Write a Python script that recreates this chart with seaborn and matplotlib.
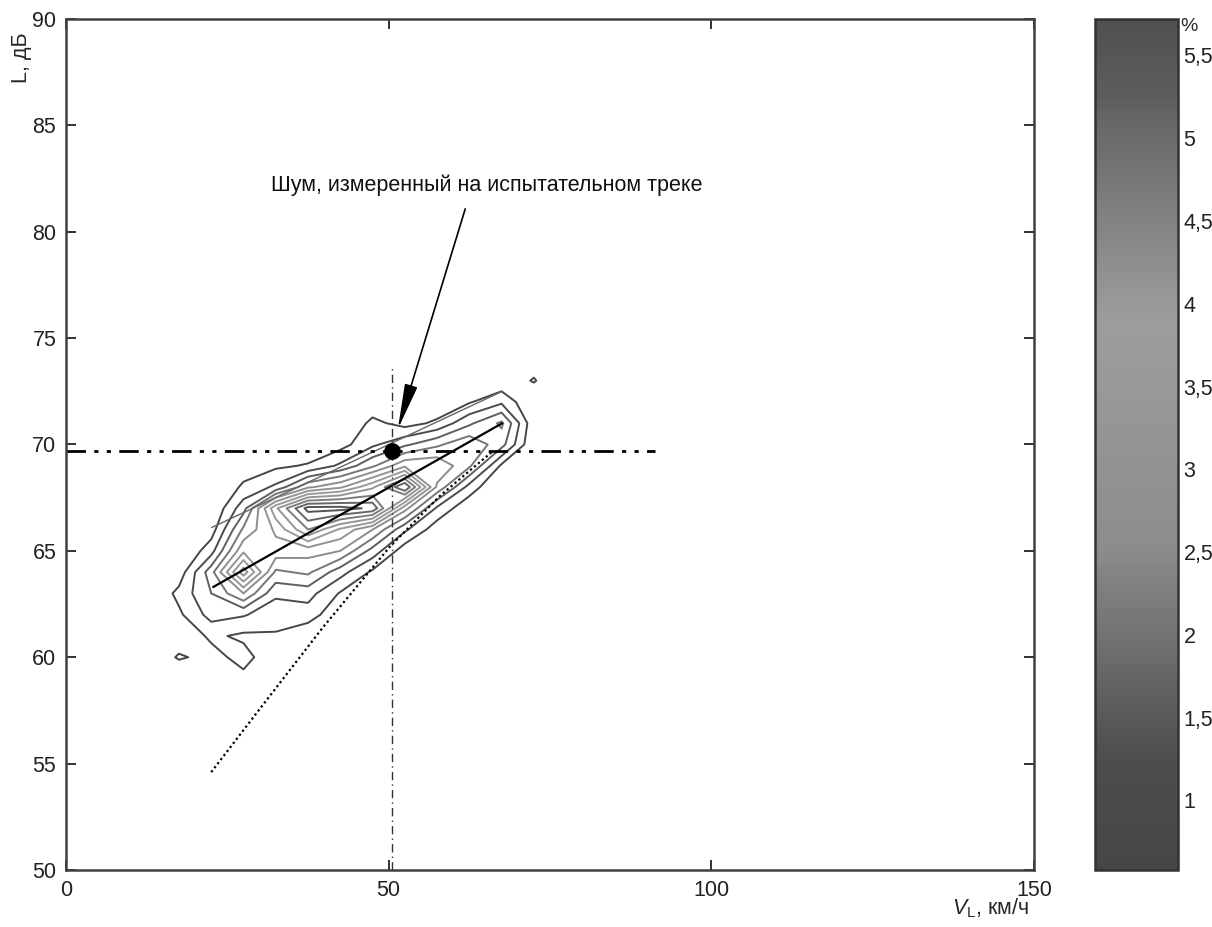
import numpy as np
import matplotlib
matplotlib.use("Agg")
import matplotlib.pyplot as plt
import seaborn as sns
from matplotlib.colors import ListedColormap, Normalize
from matplotlib.cm import ScalarMappable

# speed bins (km/h) and level bins (dB) of the density table
speed_bins = [17.5, 22.5, 27.5, 32.5, 37.5, 42.5, 47.5, 52.5, 57.5, 62.5, 67.5, 72.5]
level_bins = list(range(57, 76))

# share of pass-bys (%) per level bin, one list per speed bin (57 ... 75 dB)
v17 = [0, 0, 0, 0.68, 0.2, 0.5, 0.75, 0.3, 0, 0, 0, 0, 0, 0, 0, 0, 0, 0, 0]
v22 = [0, 0, 0.1, 0.4, 0.7, 1.3, 1.6, 1.9, 0.9, 0.35, 0.1, 0, 0, 0, 0, 0, 0, 0, 0]
v27 = [0, 0.1, 0.45, 0.8, 0.5, 1.15, 2.6, 4.4, 3.0, 2.2, 1.4, 0.7, 0.3, 0, 0, 0, 0, 0, 0]
v32 = [0, 0, 0.05, 0.2, 0.55, 0.8, 1.2, 2.0, 2.9, 3.2, 4.0, 1.2, 0.5, 0.1, 0, 0, 0, 0, 0]
v37 = [0, 0, 0, 0.05, 0.2, 0.85, 1.3, 2.2, 2.8, 4.6, 5.8, 2.5, 0.65, 0.2, 0, 0, 0, 0, 0]
v42 = [0, 0, 0, 0, 0, 0.2, 0.55, 1.3, 2.6, 3.5, 5.8, 3.0, 1.2, 0.4, 0, 0, 0, 0, 0]
v47 = [0, 0, 0, 0, 0, 0, 0.1, 0.5, 1.4, 2.6, 5.5, 4.0, 2.0, 1.0, 0.75, 0.2, 0, 0, 0]
v52 = [0, 0, 0, 0, 0, 0, 0, 0.05, 0.3, 1.2, 2.8, 5.6, 3.0, 1.5, 0.4, 0, 0, 0, 0]
v57 = [0, 0, 0, 0, 0, 0, 0, 0, 0, 0.3, 1.0, 2.5, 3.0, 2.0, 0.7, 0.2, 0, 0, 0]
v62 = [0, 0, 0, 0, 0, 0, 0, 0, 0, 0, 0.2, 0.9, 2.2, 2.5, 1.5, 0.55, 0, 0, 0]
v67 = [0, 0, 0, 0, 0, 0, 0, 0, 0, 0, 0, 0, 0.5, 1.8, 2.2, 1.0, 0.2, 0, 0]
v72 = [0, 0, 0, 0, 0, 0, 0, 0, 0, 0, 0, 0, 0, 0.1, 0.2, 0.1, 0.65, 0.3, 0]

# regression line, upper line and track curve
regr_v = [22.8, 67.6]
regr_L = [63.3, 71.0]
upper_v = [22.6, 67.6]
upper_L = [66.1, 72.5]
track_v = [22.5, 30.1, 39.8, 50.2, 58.0, 66.2]
track_L = [54.6, 57.6, 61.4, 65.2, 67.6, 69.7]

# test track measurement
meas_v = 50.5
meas_L = 69.7
vline_top = 73.7
hline_end = 91.3
note = "Шум, измеренный на испытательном треке"

contour_levels = [0.6, 1.1, 1.6, 2.1, 2.6, 3.1, 3.6, 4.1, 4.6, 5.1, 5.6]
cbar_min, cbar_max = 0.58, 5.72
cbar_ticks = [1, 1.5, 2, 2.5, 3, 3.5, 4, 4.5, 5, 5.5]

sns.set_style("white")
plt.rcParams["font.family"] = ["Liberation Sans", "DejaVu Sans"]
plt.rcParams["mathtext.fontset"] = "custom"
plt.rcParams["mathtext.rm"] = "Liberation Sans"
plt.rcParams["mathtext.it"] = "Liberation Sans:italic"

# grey rendering of jet, like the printed original
jet = plt.get_cmap("jet")(np.linspace(0, 1, 256))
lum = 0.299 * jet[:, 0] + 0.587 * jet[:, 1] + 0.114 * jet[:, 2]
g = 0.25 + 0.42 * lum
grey_jet = ListedColormap(np.column_stack([g, g, g]))
norm = Normalize(cbar_min, cbar_max)

Z = np.pad(np.column_stack([v17, v22, v27, v32, v37, v42, v47, v52, v57, v62, v67, v72]),
           ((0, 0), (1, 1)))
xs = [12.5] + speed_bins + [77.5]

fig = plt.figure(figsize=(12.12, 9.27), dpi=100)
ax = fig.add_axes([0.0545, 0.0615, 0.7985, 0.918])
cax = fig.add_axes([0.9035, 0.0615, 0.0685, 0.918])

ax.contour(xs, level_bins, Z, levels=contour_levels, cmap=grey_jet, norm=norm, linewidths=1.4)

sns.lineplot(x=upper_v, y=upper_L, ax=ax, color="#666666", lw=1.0, estimator=None, sort=False)
sns.lineplot(x=regr_v, y=regr_L, ax=ax, color="black", lw=1.6, estimator=None, sort=False)
sns.lineplot(x=track_v, y=track_L, ax=ax, color="black", lw=1.6, linestyle=(0, (1, 1.3)),
             estimator=None, sort=False)

ax.plot([meas_v, meas_v], [50, vline_top], color="#333333", lw=1.0, dashes=(6, 3, 1, 3))
ax.plot([0, hline_end], [meas_L, meas_L], color="black", lw=2.0, dashes=(7, 3, 1.5, 3, 1.5, 3))
ax.plot([meas_v], [meas_L], "o", color="black", ms=11)

ax.text(65.2, 82.2, note, ha="center", va="center", fontsize=15.5, color="#111111")
ax.annotate("", xy=(51.3, 70.6), xytext=(62.0, 81.2),
            arrowprops=dict(arrowstyle="-|>,head_width=0.2,head_length=1.4",
                            mutation_scale=20, color="black", lw=1.2))

ax.set_xlim(0, 150)
ax.set_ylim(50, 90)
ax.set_xticks([0, 50, 100, 150])
ax.set_yticks(range(50, 91, 5))
ax.tick_params(direction="in", length=7, width=1.3, top=True, right=True, bottom=True, left=True,
               labelsize=15.5, pad=7, colors="#222222")
for s in ax.spines.values():
    s.set_visible(True)
    s.set_linewidth(1.8)
    s.set_color("#404040")

ax.set_ylabel("L, дБ", fontsize=15.5)
ax.yaxis.set_label_coords(-0.035, 0.955)
ax.set_xlabel(r"$V_\mathrm{L}$, км/ч", fontsize=15.5)
ax.xaxis.set_label_coords(0.955, -0.031)

sm = ScalarMappable(norm=norm, cmap=grey_jet)
cb = fig.colorbar(sm, cax=cax)
cb.set_ticks(cbar_ticks)
cb.set_ticklabels([f"{t:g}".replace(".", ",") for t in cbar_ticks])
cax.tick_params(direction="in", length=7, width=1.3, left=True, right=True,
                labelsize=15.5, pad=4, colors="#222222")
cb.outline.set_linewidth(1.8)
cb.outline.set_edgecolor("#333333")
fig.text(0.981, 0.971, "%", fontsize=14, ha="center", va="center")

fig.savefig("out.png", dpi=100)
